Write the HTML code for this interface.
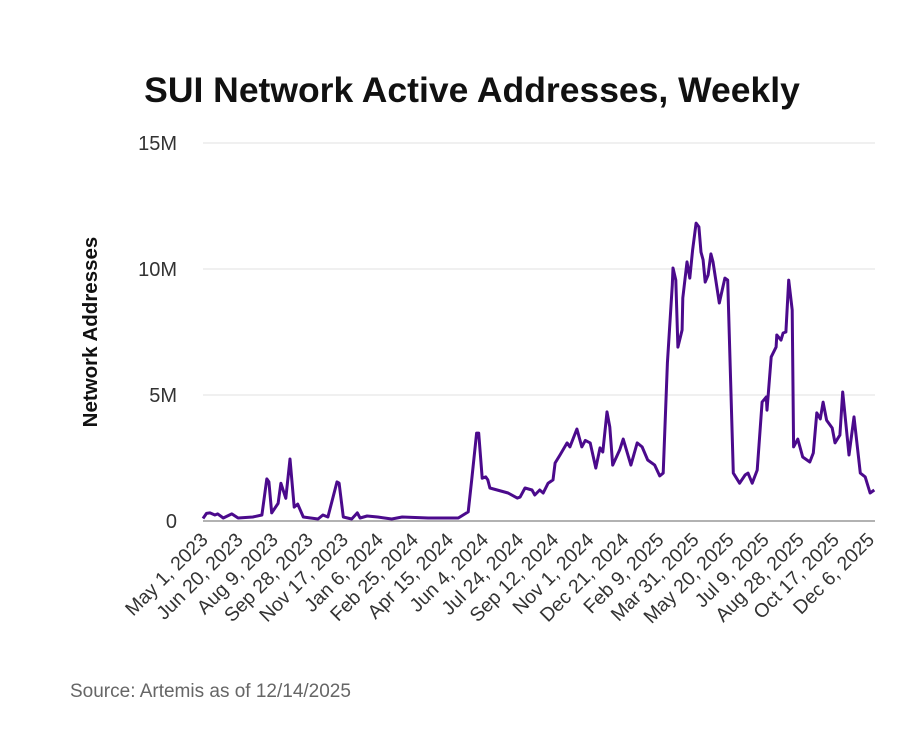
<!DOCTYPE html>
<html><head><meta charset="utf-8"><style>
html,body{margin:0;padding:0;background:#fff;}
svg{display:block;font-family:"Liberation Sans",sans-serif;}
</style></head><body>
<svg id="chart" width="911" height="735" viewBox="0 0 911 735">
<text x="472" y="102" text-anchor="middle" font-size="35.5" font-weight="bold" fill="#111">SUI Network Active Addresses, Weekly</text>
<text transform="translate(97,332) rotate(-90)" text-anchor="middle" font-size="20.5" font-weight="bold" fill="#111">Network Addresses</text>
<g id="grid"></g><g id="yt"></g><g id="xt"></g><g id="series"></g>
<text x="70" y="697" font-size="19" fill="#666">Source: Artemis as of 12/14/2025</text>
</svg>
<script>
const yTicks=[0,5,10,15];
const yTickLabels=["0","5M","10M","15M"];
const xTickDays=[0,50,100,150,200,250,300,350,400,450,500,550,600,650,700,750,800,850,900,950];
const xTickLabels=["May 1, 2023","Jun 20, 2023","Aug 9, 2023","Sep 28, 2023","Nov 17, 2023","Jan 6, 2024","Feb 25, 2024","Apr 15, 2024","Jun 4, 2024","Jul 24, 2024","Sep 12, 2024","Nov 1, 2024","Dec 21, 2024","Feb 9, 2025","Mar 31, 2025","May 20, 2025","Jul 9, 2025","Aug 28, 2025","Oct 17, 2025","Dec 6, 2025"];
const days=[0,5,10,17,21,29,41,50,71,84,91,94,98,107,111,118,124,130,135,143,164,171,178,191,194,200,212,220,224,234,249,269,284,321,364,378,383,390,393,398,403,406,409,435,448,452,459,469,473,480,485,492,499,502,509,519,523,533,540,545,552,560,566,570,576,580,584,594,599,610,619,626,634,644,651,656,662,669,670,674,677,683,684,690,694,698,703,707,710,713,716,720,724,727,736,744,748,756,765,773,777,783,790,797,803,804,810,817,818,824,827,831,835,840,842,848,855,865,870,875,880,884,889,897,901,908,912,921,928,937,944,951,957];
const values=[0.1,0.3,0.32,0.24,0.28,0.12,0.28,0.12,0.16,0.24,1.67,1.55,0.32,0.7,1.5,0.9,2.46,0.55,0.67,0.16,0.08,0.24,0.16,1.55,1.5,0.16,0.08,0.32,0.12,0.2,0.16,0.08,0.16,0.12,0.12,0.36,1.63,3.49,3.49,1.7,1.75,1.63,1.31,1.11,0.91,0.95,1.31,1.23,1.03,1.23,1.11,1.5,1.63,2.3,2.62,3.1,2.94,3.65,2.94,3.2,3.1,2.1,2.9,2.74,4.33,3.73,2.22,2.82,3.25,2.22,3.1,2.94,2.42,2.22,1.79,1.9,6.27,9.37,10.04,9.56,6.9,7.58,8.85,10.28,9.64,10.75,11.82,11.67,10.67,10.36,9.48,9.76,10.6,10.28,8.65,9.64,9.56,1.9,1.5,1.83,1.9,1.5,2.02,4.72,4.92,4.4,6.51,6.9,7.38,7.18,7.46,7.5,9.56,8.37,2.94,3.25,2.54,2.34,2.7,4.29,4.05,4.72,4.0,3.69,3.1,3.41,5.12,2.62,4.13,1.9,1.75,1.11,1.23];
const X0=203,X1=875,DMAX=958,Y0=521,YTOP=143,VMAX=15;
const xs=d=>X0+(X1-X0)*d/DMAX;
const ys=v=>Y0-(Y0-YTOP)*v/VMAX;
const NS="http://www.w3.org/2000/svg";
function mk(t,a,p){const e=document.createElementNS(NS,t);for(const k in a)e.setAttribute(k,a[k]);p.appendChild(e);return e;}
const grid=document.getElementById('grid'),yt=document.getElementById('yt'),xt=document.getElementById('xt'),ser=document.getElementById('series');
yTicks.forEach((v,i)=>{
  if(v>0){const g=mk('line',{x1:X0,x2:X1,y1:ys(v),y2:ys(v),stroke:'#ebebeb','stroke-width':1.5},grid);
  
  }
  const t=mk('text',{x:177,y:ys(v)+7,'text-anchor':'end','font-size':20,fill:'#333'},yt);
  t.textContent=yTickLabels[i];
  
  
});
const base=mk('line',{x1:X0,x2:X1,y1:Y0,y2:Y0,stroke:'#999','stroke-width':1.5},grid);


xTickDays.forEach((d,i)=>{
  const x=xs(d)+6,y=541;
  const t=mk('text',{x:x,y:y,'text-anchor':'end','font-size':19.5,fill:'#333',transform:`rotate(-45 ${x} ${y})`},xt);
  t.textContent=xTickLabels[i];
  
  
});
const pts=days.map((d,i)=>xs(d).toFixed(1)+','+ys(values[i]).toFixed(1)).join(' ');
const line=mk('polyline',{points:pts,fill:'none',stroke:'#4b0a8c','stroke-width':3,'stroke-linejoin':'round'},ser);


</script>
</body></html>
